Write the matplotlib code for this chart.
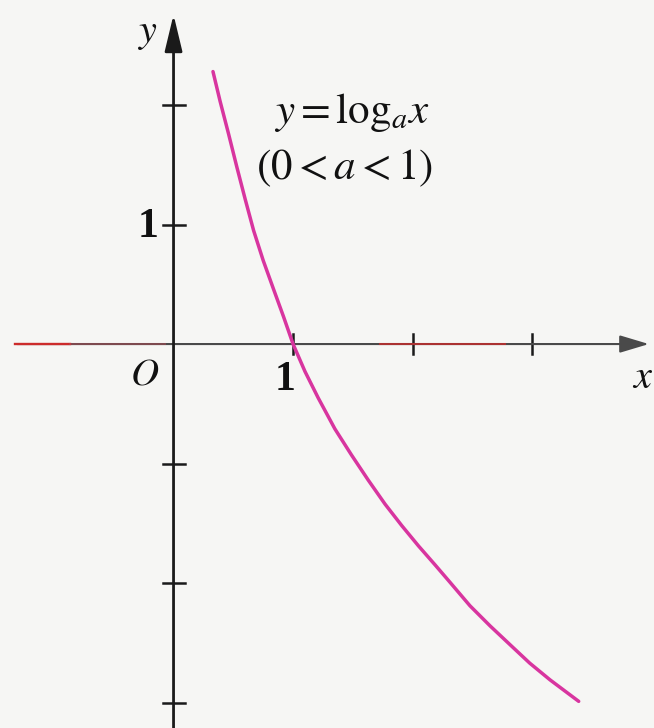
import matplotlib
matplotlib.use('Agg')
import matplotlib.pyplot as plt

plt.rcParams['mathtext.fontset'] = 'stix'
plt.rcParams['font.family'] = ['Liberation Serif', 'DejaVu Serif']

# curve y = log_a x (0 < a < 1)
curve_x = [0.33, 0.39, 0.46, 0.53, 0.60, 0.67, 0.75, 0.84, 0.92, 1.00,
           1.10, 1.21, 1.35, 1.49, 1.63, 1.77, 1.91, 2.05, 2.19, 2.31,
           2.48, 2.65, 2.82, 2.98, 3.15, 3.39]
curve_y = [2.28, 2.03, 1.76, 1.48, 1.21, 0.95, 0.70, 0.45, 0.23, 0.00,
           -0.23, -0.45, -0.71, -0.93, -1.14, -1.34, -1.52, -1.69, -1.85, -1.99,
           -2.19, -2.36, -2.52, -2.67, -2.81, -2.99]

x_ticks = [1, 2, 3]
y_ticks = [2, 1, -1, -2, -3]

bg = '#f6f6f4'
fig = plt.figure(figsize=(6.54, 7.28), dpi=100, facecolor=bg)
ax = fig.add_axes([0, 0, 1, 1])
ax.set_facecolor(bg)
ax.set_xlim(-1.452, 4.02)
ax.set_ylim(-3.213, 2.879)
ax.axis('off')

# x axis (with the reddish tinted parts of the scan)
ax.annotate('', xy=(4.00, 0), xytext=(-1.33, 0),
            arrowprops=dict(arrowstyle='-|>,head_length=1.0,head_width=0.3',
                            mutation_scale=18, lw=1.5, color='#4a4a4a'))
ax.plot([-1.33, -0.87], [0, 0], color='#cc2b2b', lw=1.7, zorder=3)
ax.plot([-0.87, -0.07], [0, 0], color='#b04a55', lw=1.5, alpha=0.5, zorder=3)
ax.plot([1.73, 2.77], [0, 0], color='#cc2b2b', lw=1.5, alpha=0.75, zorder=3)

# y axis
ax.annotate('', xy=(0, 2.78), xytext=(0, -3.3),
            arrowprops=dict(arrowstyle='-|>,head_length=1.25,head_width=0.3',
                            mutation_scale=18, lw=2.0, color='#1a1a1a'))

for t in x_ticks:
    ax.plot([t, t], [-0.085, 0.085], color='#1a1a1a', lw=1.8, zorder=2)
for t in y_ticks:
    ax.plot([-0.092, 0.092], [t, t], color='#1a1a1a', lw=1.8, zorder=2)

ax.plot(curve_x, curve_y, color='#d8359f', lw=2.5, solid_capstyle='round',
        solid_joinstyle='round', zorder=4)

ax.text(-0.214, 2.60, '$y$', fontsize=29, ha='center', va='center', color='#111111')
ax.text(3.92, -0.285, '$x$', fontsize=29, ha='center', va='center', color='#111111')
ax.text(-0.239, -0.26, '$O$', fontsize=28, ha='center', va='center', color='#111111')
ax.text(-0.214, 0.98, '1', fontsize=30, fontweight='bold', ha='center', va='center', color='#111111')
ax.text(0.933, -0.30, '1', fontsize=30, fontweight='bold', ha='center', va='center', color='#111111')

ax.text(1.494, 1.94, r'$y = \mathrm{log}_a x$', fontsize=31, ha='center', va='center', color='#111111')
ax.text(1.427, 1.473, r'$(0 < a < 1)$', fontsize=31, ha='center', va='center', color='#111111')

fig.savefig('out.png', dpi=100, facecolor=bg)
